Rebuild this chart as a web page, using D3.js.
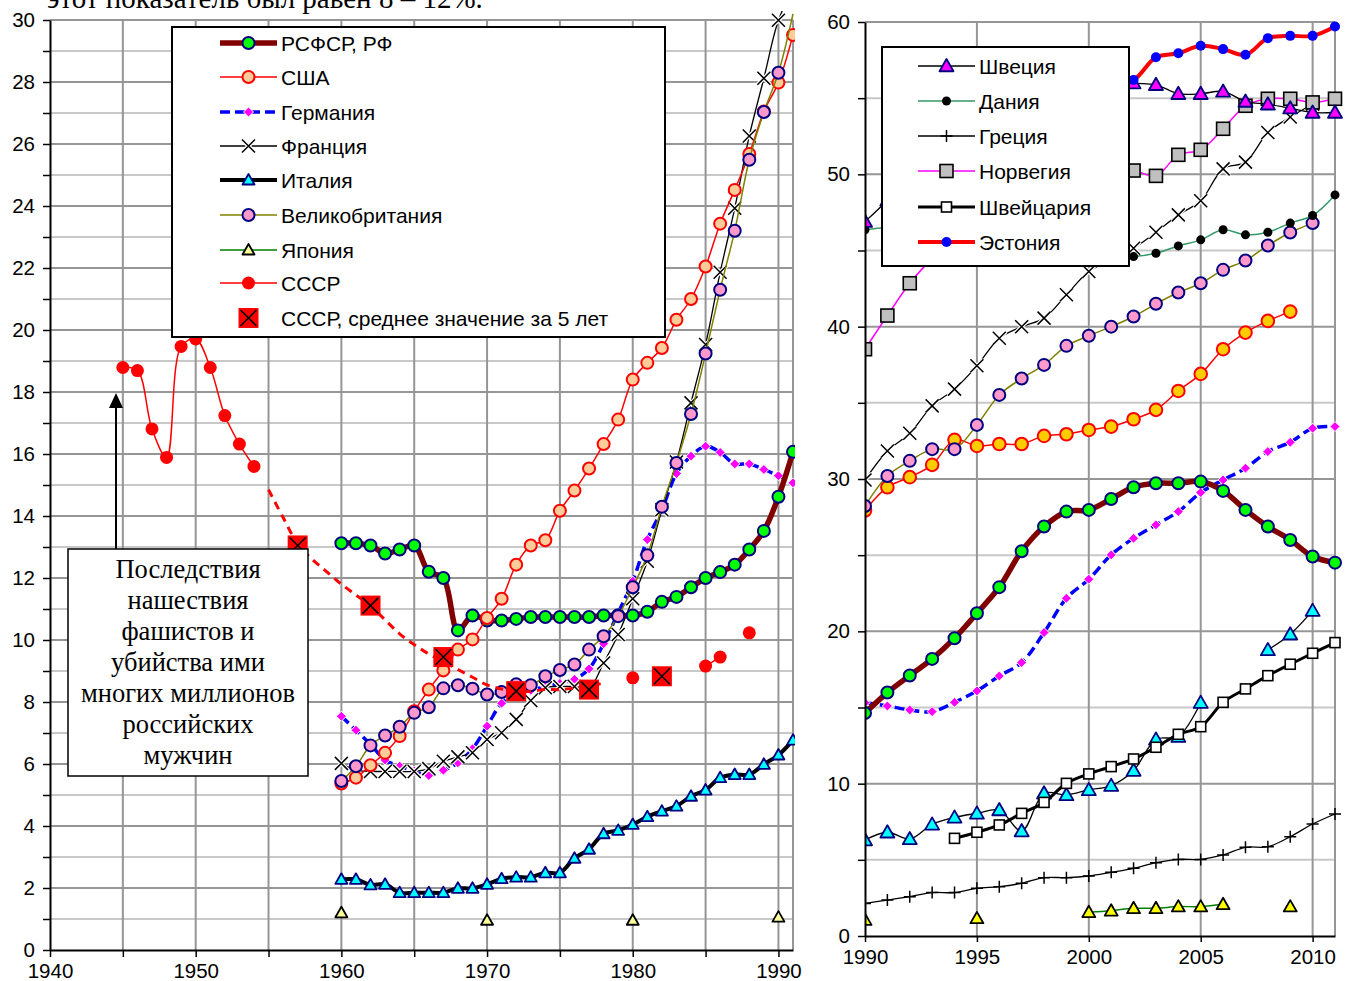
<!DOCTYPE html>
<html>
<head>
<meta charset="utf-8">
<script src="https://cdn.jsdelivr.net/npm/d3@7"></script>
<style>
  body { margin: 0; background: #fff; }
  text { font-family: "Liberation Sans", Arial, sans-serif; }
</style>
</head>
<body>
<svg id="chart" width="1345" height="981"></svg>
<script>
// ---------- left panel data (1960-1991) ----------
const leftYears = [1960,1961,1962,1963,1964,1965,1966,1967,1968,1969,1970,1971,1972,1973,1974,1975,
                   1976,1977,1978,1979,1980,1981,1982,1983,1984,1985,1986,1987,1988,1989,1990,1991];
const rfLeft      = [13.12,13.12,13.05,12.79,12.92,13.05,12.2,12.0,10.31,10.79,10.63,10.63,10.68,10.74,10.74,10.74,
                     10.74,10.74,10.79,10.8,10.79,10.91,11.23,11.39,11.7,12.0,12.19,12.43,12.92,13.52,14.62,16.07];
const usaLeft     = [5.37,5.56,5.96,6.36,6.9,7.7,8.4,9.02,9.69,10.02,10.71,11.33,12.43,13.05,13.22,14.17,
                     14.82,15.53,16.32,17.11,18.4,18.94,19.42,20.33,21.0,22.05,23.43,24.52,25.68,27.05,27.98,29.52];
const germanyLeft = [7.54,7.09,6.63,6.13,5.93,5.77,5.63,5.8,6.04,6.49,7.22,7.96,8.3,8.38,8.5,8.6,
                     8.73,9.07,9.88,10.88,11.9,13.24,14.2,15.37,15.93,16.25,16.05,15.68,15.68,15.5,15.3,15.07];
const franceLeft  = [6.02,5.8,5.76,5.76,5.76,5.76,5.85,6.09,6.23,6.36,6.79,7.01,7.44,8.05,8.46,8.5,
                     8.5,8.45,9.26,10.18,11.33,12.54,14.2,15.74,17.65,19.53,21.86,23.93,26.26,28.12,29.99,31.0];
const italyLeft   = [2.28,2.28,2.1,2.12,1.85,1.85,1.85,1.85,1.99,1.99,2.12,2.3,2.35,2.35,2.49,2.49,
                     2.96,3.25,3.75,3.86,4.05,4.3,4.48,4.64,4.96,5.16,5.56,5.66,5.66,5.99,6.29,6.77];
const ukLeft      = [5.45,5.93,6.6,6.92,7.2,7.65,7.83,8.44,8.54,8.43,8.24,8.32,8.57,8.54,8.83,9.03,
                     9.21,9.69,10.12,10.77,11.7,12.73,14.3,15.71,17.29,19.24,21.3,23.2,25.49,27.03,28.3,30.2];
const japanLeftYears = [1960,1970,1980,1990];
const japanLeft      = [1.2,0.96,0.96,1.06];
const ussrYears = [1945,1946,1947,1948,1949,1950,1951,1952,1953,1954,1980,1985,1986,1988];
const ussr      = [18.79,18.69,16.81,15.89,19.47,19.71,18.79,17.24,16.32,15.6,8.78,9.16,9.45,10.23];
const ussrTrendYears = [1955,1956,1957,1958,1959,1960,1961,1962,1963,1964,1965,1966,
                        1967,1968,1969,1970,1971,1972,1973,1974,1975,1976,1977,1978];
const ussrTrend      = [14.85,13.95,13.1,12.6,12.2,11.8,11.45,11.1,10.65,10.2,9.85,9.55,
                        9.3,9.05,8.8,8.55,8.42,8.35,8.35,8.4,8.4,8.45,8.5,8.62];
const ussr5Years = [1957,1962,1967,1972,1977,1982];
const ussr5      = [13.05,11.11,9.45,8.35,8.4,8.83];

// ---------- right panel data (1990-2011) ----------
const rightYears = [1990,1991,1992,1993,1994,1995,1996,1997,1998,1999,2000,
                    2001,2002,2003,2004,2005,2006,2007,2008,2009,2010,2011];
const rfRight      = [14.64,15.98,17.1,18.19,19.55,21.19,22.9,25.26,26.88,27.86,27.97,
                      28.69,29.46,29.72,29.72,29.83,29.22,27.97,26.88,26.0,24.91,24.51];
const usaRight     = [27.93,29.46,30.12,30.93,32.57,32.17,32.3,32.3,32.83,32.94,33.22,
                      33.44,33.92,34.54,35.78,36.9,38.52,39.61,40.38,40.99];
const germanyRight = [15.32,15.1,14.84,14.73,15.34,16.09,17.07,17.95,19.92,22.17,23.42,
                      25.02,26.11,26.99,27.86,29.11,29.94,30.71,31.8,32.41,33.33,33.44];
const franceRight  = [29.94,31.84,33.0,34.8,35.9,37.43,39.24,40.0,40.56,42.09,43.62,
                      44.4,45.15,46.2,47.34,48.26,50.36,50.8,52.74,53.76,54.6];
const ukRight      = [28.23,30.2,31.19,31.96,31.96,33.55,35.52,36.6,37.49,38.74,39.4,
                      40.0,40.67,41.5,42.24,42.85,43.73,44.34,45.33,46.18,46.8];
const italyRight   = [6.3,6.81,6.37,7.33,7.79,8.05,8.27,6.89,9.37,9.26,9.59,
                      9.87,10.86,12.91,13.09,15.32,null,null,18.78,19.81,21.36];
const greeceRight  = [2.14,2.36,2.58,2.85,2.85,3.13,3.24,3.46,3.83,3.83,3.94,
                      4.18,4.44,4.81,5.03,5.03,5.32,5.82,5.86,6.52,7.35,8.01];
const swedenRight  = [46.9,48.3,50.0,51.5,53.0,54.0,55.0,55.5,55.8,56.0,56.0,
                      56.2,55.99,55.88,55.29,55.29,55.44,54.78,54.6,54.34,54.06,54.06];
const denmarkRight = [46.36,46.5,46.3,46.0,45.7,45.4,45.2,45.0,44.8,44.7,44.6,
                      44.6,44.6,44.82,45.3,45.7,46.36,46.03,46.2,46.8,47.3,48.65];
const norwayRight  = [38.52,40.73,42.85,44.5,46.0,47.0,48.0,48.8,49.3,49.7,50.0,
                      50.2,50.25,49.9,51.28,51.61,52.99,54.5,54.96,54.96,54.72,54.96];
const swissYears = [1994,1995,1996,1997,1998,1999,2000,2001,2002,2003,2004,2005,2006,2007,2008,2009,2010,2011];
const swissRight = [6.41,6.81,7.29,8.05,8.77,10.02,10.64,11.12,11.62,12.39,13.24,13.74,15.34,16.22,17.09,17.84,18.56,19.26];
const estoniaYears = [2000,2001,2002,2003,2004,2005,2006,2007,2008,2009,2010,2011];
const estoniaRight = [55.5,56.0,56.2,57.69,57.95,58.44,58.22,57.85,58.94,59.09,59.09,59.7];
const japanRightYears = [1990,1995,2000,2001,2002,2003,2004,2005,2006,2009];
const japanRight      = [1.05,1.16,1.56,1.66,1.82,1.82,1.93,1.93,2.08,1.93];

const leftLegend  = ["РСФСР, РФ","США","Германия","Франция","Италия","Великобритания","Япония","СССР","СССР, среднее значение за 5 лет"];
const rightLegend = ["Швеция","Дания","Греция","Норвегия","Швейцария","Эстония"];
const noteLines = ["Последствия","нашествия","фашистов и","убийства ими","многих миллионов","российских","мужчин"];

// ---------- styles ----------
const S = {
  rf:      {line:"#800000", width:5.5, marker:"circle", fill:"#00FF00", stroke:"#000080", r:6},
  usa:     {line:"#FF0000", width:1.5, marker:"circle", fill:"#FFCC99", stroke:"#FF0000", r:6},
  usaR:    {line:"#FF0000", width:1.5, marker:"circle", fill:"#FFCC00", stroke:"#FF0000", r:6.3},
  germany: {line:"#0000FF", width:3.5, dash:"10,5", marker:"diamond", fill:"#FF00FF", stroke:"#fff", r:5},
  france:  {line:"#000000", width:1.3, marker:"x", r:6.5},
  italy:   {line:"#000000", width:4, marker:"tri", fill:"#00FFFF", stroke:"#000080", r:6},
  italyR:  {line:"#000000", width:1.3, marker:"tri", fill:"#00FFFF", stroke:"#000080", r:7},
  uk:      {line:"#808000", width:1.5, marker:"circle", fill:"#FF99CC", stroke:"#000080", r:6},
  japan:   {line:"#008000", width:1.5, marker:"tri", fill:"#FFFF99", stroke:"#000000", r:6},
  japanR:  {line:"#008000", width:1.5, marker:"tri", fill:"#FFFF00", stroke:"#000000", r:6.5},
  ussr:    {line:"#FF0000", width:1.5, marker:"dot", fill:"#FF0000", r:6.5},
  ussrT:   {line:"#FF0000", width:3, dash:"8,6"},
  ussr5:   {marker:"xsquare"},
  sweden:  {line:"#000000", width:1.3, marker:"tri", fill:"#FF00FF", stroke:"#000080", r:7},
  denmark: {line:"#339966", width:1.5, marker:"dot", fill:"#000000", r:4.5},
  greece:  {line:"#000000", width:1.3, marker:"plus", r:6},
  norway:  {line:"#FF00FF", width:1.5, marker:"square", fill:"#C0C0C0", stroke:"#000000", r:6.5},
  swiss:   {line:"#000000", width:3, marker:"square", fill:"#FFFFFF", stroke:"#000000", r:5},
  estonia: {line:"#FF0000", width:4, marker:"dot", fill:"#0000FF", r:5}
};

const svg = d3.select("#chart");

function drawMarker(g, cx, cy, s) {
  const m = g.append("g").attr("transform", `translate(${cx},${cy})`);
  const r = s.r;
  if (s.marker === "circle") {
    m.append("circle").attr("r", r).attr("fill", s.fill).attr("stroke", s.stroke).attr("stroke-width", 2);
  } else if (s.marker === "dot") {
    m.append("circle").attr("r", r).attr("fill", s.fill);
  } else if (s.marker === "tri") {
    m.append("path").attr("d", `M0,${-r} L${r},${r*0.75} L${-r},${r*0.75} Z`)
      .attr("fill", s.fill).attr("stroke", s.stroke).attr("stroke-width", 1.8).attr("stroke-linejoin", "round");
  } else if (s.marker === "diamond") {
    m.append("path").attr("d", `M0,${-r} L${r},0 L0,${r} L${-r},0 Z`)
      .attr("fill", s.fill).attr("stroke", s.stroke).attr("stroke-width", 1);
  } else if (s.marker === "x") {
    const p = `M${-r},${-r} L${r},${r} M${-r},${r} L${r},${-r}`;
    m.append("path").attr("d", p).attr("stroke", "#fff").attr("stroke-width", 4);
    m.append("path").attr("d", p).attr("stroke", "#000").attr("stroke-width", 1.5);
  } else if (s.marker === "plus") {
    m.append("path").attr("d", `M${-r},0 L${r},0 M0,${-r} L0,${r}`).attr("stroke", "#000").attr("stroke-width", 1.5);
  } else if (s.marker === "square") {
    m.append("rect").attr("x", -r).attr("y", -r).attr("width", 2*r).attr("height", 2*r)
      .attr("fill", s.fill).attr("stroke", s.stroke).attr("stroke-width", 1.6);
  } else if (s.marker === "xsquare") {
    m.append("rect").attr("x", -10).attr("y", -10).attr("width", 20).attr("height", 20).attr("fill", "#FF0000");
    m.append("path").attr("d", "M-8,-8 L8,8 M-8,8 L8,-8").attr("stroke", "#000").attr("stroke-width", 1.6);
  }
}

function drawSeries(g, x, y, years, values, s, yMax) {
  const pts = years.map((yr, i) => ({yr: yr, v: values[i]})).filter(d => d.v != null);
  // split where years are not consecutive
  const segs = [];
  let cur = [];
  pts.forEach(p => {
    if (cur.length && p.yr - cur[cur.length - 1].yr > 1) { segs.push(cur); cur = []; }
    cur.push(p);
  });
  if (cur.length) segs.push(cur);
  const line = d3.line().x(d => x(d.yr)).y(d => y(d.v)).curve(d3.curveCatmullRom.alpha(0.5));
  if (s.line) {
    segs.filter(sg => sg.length > 1).forEach(sg => {
      g.append("path").attr("d", line(sg)).attr("fill", "none")
        .attr("stroke", s.line).attr("stroke-width", s.width)
        .attr("stroke-dasharray", s.dash || null)
        .attr("stroke-linejoin", "round");
    });
  }
  if (s.marker) pts.filter(d => d.v <= yMax).forEach(d => drawMarker(g, x(d.yr), y(d.v), s));
}

function drawGrid(g, x, y, xGrid, yMajor, yMinor) {
  g.selectAll(".hmin").data(yMinor).enter().append("line")
    .attr("x1", x.range()[0]).attr("x2", x.range()[1])
    .attr("y1", d => y(d)).attr("y2", d => y(d))
    .attr("stroke", "#C8C8C8").attr("stroke-width", 2);
  g.selectAll(".hmaj").data(yMajor).enter().append("line")
    .attr("x1", x.range()[0]).attr("x2", x.range()[1])
    .attr("y1", d => y(d)).attr("y2", d => y(d))
    .attr("stroke", "#969696").attr("stroke-width", 2);
  g.selectAll(".v").data(xGrid).enter().append("line")
    .attr("x1", d => x(d)).attr("x2", d => x(d))
    .attr("y1", y.range()[0]).attr("y2", y.range()[1])
    .attr("stroke", "#969696").attr("stroke-width", 2);
}

function drawLegend(g, box, rows, entries, lx1, lx2, tx) {
  g.append("rect").attr("x", box[0]).attr("y", box[1]).attr("width", box[2]).attr("height", box[3])
    .attr("fill", "#fff").attr("stroke", "#000").attr("stroke-width", 2);
  entries.forEach((e, i) => {
    const cy = rows[i];
    if (e.s.line) {
      g.append("line").attr("x1", lx1).attr("x2", lx2).attr("y1", cy).attr("y2", cy)
        .attr("stroke", e.s.line).attr("stroke-width", e.s.width)
        .attr("stroke-dasharray", e.s.dash || null);
    }
    if (e.s.marker) drawMarker(g, (lx1 + lx2) / 2, cy, e.s);
    g.append("text").attr("x", tx).attr("y", cy).attr("dy", "0.36em")
      .style("font-size", "21px").text(e.label);
  });
}

function styleAxis(a) {
  a.select(".domain").attr("stroke", "#000").attr("stroke-width", 2);
  a.selectAll(".tick line").attr("stroke", "#000").attr("stroke-width", 1.5);
  a.selectAll("text").style("font-size", "20.5px").attr("fill", "#000")
    .style("font-family", "'Liberation Sans', Arial, sans-serif");
}

// ================= LEFT PANEL =================
const xL = d3.scaleLinear().domain([1940, 1991]).range([50, 793]);
const yL = d3.scaleLinear().domain([0, 30]).range([950, 20]);
const gL = svg.append("g");

drawGrid(gL, xL, yL, [1945,1950,1955,1960,1965,1970,1975,1980,1985,1990,1991],
  d3.range(2, 31, 2), d3.range(1, 30, 2));

gL.append("clipPath").attr("id", "clipL").append("rect")
  .attr("x", 50).attr("y", 11).attr("width", 745).attr("height", 941);
const pL = gL.append("g").attr("clip-path", "url(#clipL)");

drawSeries(pL, xL, yL, japanLeftYears, japanLeft, S.japan, 30);
drawSeries(pL, xL, yL, leftYears, italyLeft, S.italy, 30);
drawSeries(pL, xL, yL, leftYears, germanyLeft, S.germany, 30);
drawSeries(pL, xL, yL, leftYears, franceLeft, S.france, 30.1);
drawSeries(pL, xL, yL, leftYears, rfLeft, S.rf, 30);
drawSeries(pL, xL, yL, leftYears, usaLeft, S.usa, 30);
drawSeries(pL, xL, yL, leftYears, ukLeft, S.uk, 30);
drawSeries(pL, xL, yL, ussrTrendYears, ussrTrend, S.ussrT, 30);
drawSeries(pL, xL, yL, ussrYears, ussr, S.ussr, 30);
drawSeries(pL, xL, yL, ussr5Years, ussr5, S.ussr5, 30);

// axes
styleAxis(gL.append("g").attr("transform", "translate(50,0)")
  .call(d3.axisLeft(yL).tickValues(d3.range(0, 31, 1)).tickFormat(d => d % 2 === 0 ? d : "")
    .tickSize(7).tickSizeOuter(0).tickPadding(8)));
styleAxis(gL.append("g").attr("transform", "translate(0,950)")
  .call(d3.axisBottom(xL).tickValues(d3.range(1940, 1991, 5)).tickFormat(d => d % 10 === 0 ? d : "")
    .tickSize(7).tickSizeOuter(0).tickPadding(6)));

// annotation
gL.append("line").attr("x1", 116).attr("x2", 116).attr("y1", 549).attr("y2", 405)
  .attr("stroke", "#000").attr("stroke-width", 2);
gL.append("path").attr("d", "M116,393 L123,408 L109,408 Z").attr("fill", "#000");
gL.append("rect").attr("x", 68).attr("y", 549).attr("width", 240).attr("height", 227)
  .attr("fill", "#fff").attr("stroke", "#000").attr("stroke-width", 1.5);
noteLines.forEach((t, i) => {
  gL.append("text").attr("x", 188).attr("y", 578 + i * 31).attr("text-anchor", "middle")
    .style("font-family", "'Liberation Serif', 'Times New Roman', serif").style("font-size", "26.5px").text(t);
});

// legend
const leftStyles = [S.rf, S.usa, S.germany, S.france, S.italy, S.uk, S.japan, S.ussr, S.ussr5];
drawLegend(gL, [172, 27, 493, 310], [43, 77, 112, 146, 180, 215, 250, 283, 318],
  leftLegend.map((l, i) => ({label: l, s: leftStyles[i]})), 220, 277, 281);

// cut-off caption at top
svg.append("text").attr("x", 47).attr("y", 8)
  .style("font-family", "'Liberation Serif', 'Times New Roman', serif").style("font-size", "29px")
  .text("этот показатель был равен 8 – 12%.");

// ================= RIGHT PANEL =================
const xR = d3.scaleLinear().domain([1990, 2011]).range([865, 1335]);
const yR = d3.scaleLinear().domain([0, 60]).range([936, 22]);
const gR = svg.append("g");

drawGrid(gR, xR, yR, [1995, 2000, 2005, 2010, 2011], [10, 20, 30, 40, 50, 60], [5, 15, 25, 35, 45, 55]);

gR.append("clipPath").attr("id", "clipR").append("rect")
  .attr("x", 865).attr("y", 12).attr("width", 478).attr("height", 926);
const pR = gR.append("g").attr("clip-path", "url(#clipR)");

drawSeries(pR, xR, yR, japanRightYears, japanRight, S.japanR, 60);
drawSeries(pR, xR, yR, rightYears, greeceRight, S.greece, 60);
drawSeries(pR, xR, yR, rightYears, italyRight, S.italyR, 60);
drawSeries(pR, xR, yR, swissYears, swissRight, S.swiss, 60);
drawSeries(pR, xR, yR, rightYears, germanyRight, S.germany, 60);
drawSeries(pR, xR, yR, rightYears, rfRight, S.rf, 60);
drawSeries(pR, xR, yR, rightYears, usaRight, S.usaR, 60);
drawSeries(pR, xR, yR, rightYears, ukRight, S.uk, 60);
drawSeries(pR, xR, yR, rightYears, franceRight, S.france, 60);
drawSeries(pR, xR, yR, rightYears, denmarkRight, S.denmark, 60);
drawSeries(pR, xR, yR, rightYears, norwayRight, S.norway, 60);
drawSeries(pR, xR, yR, rightYears, swedenRight, S.sweden, 60);
drawSeries(pR, xR, yR, estoniaYears, estoniaRight, S.estonia, 60.5);

styleAxis(gR.append("g").attr("transform", "translate(865,0)")
  .call(d3.axisLeft(yR).tickValues(d3.range(0, 61, 5)).tickFormat(d => d % 10 === 0 ? d : "")
    .tickSize(7).tickSizeOuter(0).tickPadding(8)));
styleAxis(gR.append("g").attr("transform", "translate(0,936)")
  .call(d3.axisBottom(xR).tickValues([1990, 1995, 2000, 2005, 2010]).tickFormat(d3.format("d"))
    .tickSize(6).tickSizeOuter(0).tickPadding(7)));

const rightStyles = [S.sweden, S.denmark, S.greece, S.norway, S.swiss, S.estonia];
drawLegend(gR, [882, 47, 247, 219], [66, 101, 136, 171, 207, 242],
  rightLegend.map((l, i) => ({label: l, s: rightStyles[i]})), 918, 975, 979);
</script>
</body>
</html>
